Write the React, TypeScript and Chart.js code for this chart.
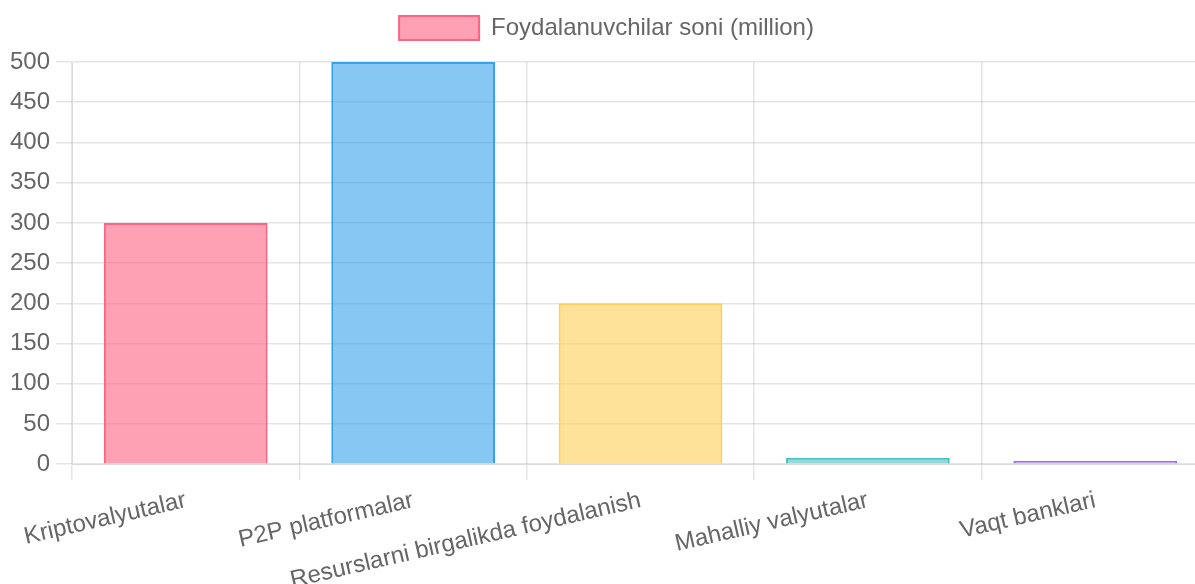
import React, { useEffect, useRef } from "react";
import { Chart, registerables } from "chart.js";

Chart.register(...registerables);

const categories = [
  "Kriptovalyutalar",
  "P2P platformalar",
  "Resurslarni birgalikda foydalanish",
  "Mahalliy valyutalar",
  "Vaqt banklari",
];
const values = [300, 500, 200, 8, 4];
const seriesLabel = "Foydalanuvchilar soni (million)";
const fills = [
  "rgba(255, 99, 132, 0.6)",
  "rgba(54, 162, 235, 0.6)",
  "rgba(255, 206, 86, 0.6)",
  "rgba(75, 192, 192, 0.6)",
  "rgba(153, 102, 255, 0.6)",
];
const borders = [
  "rgb(255, 99, 132)",
  "rgb(54, 162, 235)",
  "rgb(255, 206, 86)",
  "rgb(75, 192, 192)",
  "rgb(153, 102, 255)",
];

const legendSpacer = {
  id: "legendSpacer",
  beforeInit(chart: any) {
    const legend = chart.legend;
    if (!legend) return;
    const fit = legend.fit;
    legend.fit = function () {
      fit.call(this);
      this.height += 12;
    };
  },
};

export default function App() {
  const ref = useRef<HTMLCanvasElement>(null);
  useEffect(() => {
    if (!ref.current) return;
    const font = { family: "'Liberation Sans', Arial, sans-serif", size: 24 };
    const chart = new Chart(ref.current, {
      type: "bar",
      data: {
        labels: categories,
        datasets: [
          {
            label: seriesLabel,
            data: values,
            backgroundColor: fills,
            borderColor: borders,
            borderWidth: 2,
          },
        ],
      },
      plugins: [legendSpacer],
      options: {
        animation: false,
        responsive: false,
        maintainAspectRatio: false,
        layout: { padding: { left: 4, right: 0, top: 0, bottom: 0 } },
        plugins: {
          legend: {
            labels: {
              font,
              color: "#666",
              boxWidth: 80,
              boxHeight: 24,
              padding: 20,
            },
          },
          tooltip: { enabled: false },
        },
        scales: {
          x: {
            ticks: { font, color: "#666", padding: 6, minRotation: 13, maxRotation: 13 },
            grid: { color: "rgba(0,0,0,0.1)", tickLength: 16, lineWidth: 1.5 },
          },
          y: {
            min: 0,
            max: 500,
            ticks: { font, color: "#666", stepSize: 50, padding: 6 },
            grid: { color: "rgba(0,0,0,0.1)", tickLength: 16, lineWidth: 1.5 },
          },
        },
      },
    } as any);
    return () => chart.destroy();
  }, []);
  return (
    <div
      style={{
        position: "absolute",
        left: 0,
        top: 0,
        width: 1195,
        height: 584,
        overflow: "hidden",
      }}
    >
      <canvas
        ref={ref}
        width={1209}
        height={605}
        style={{ position: "absolute", left: 0, top: -4 }}
      />
    </div>
  );
}
